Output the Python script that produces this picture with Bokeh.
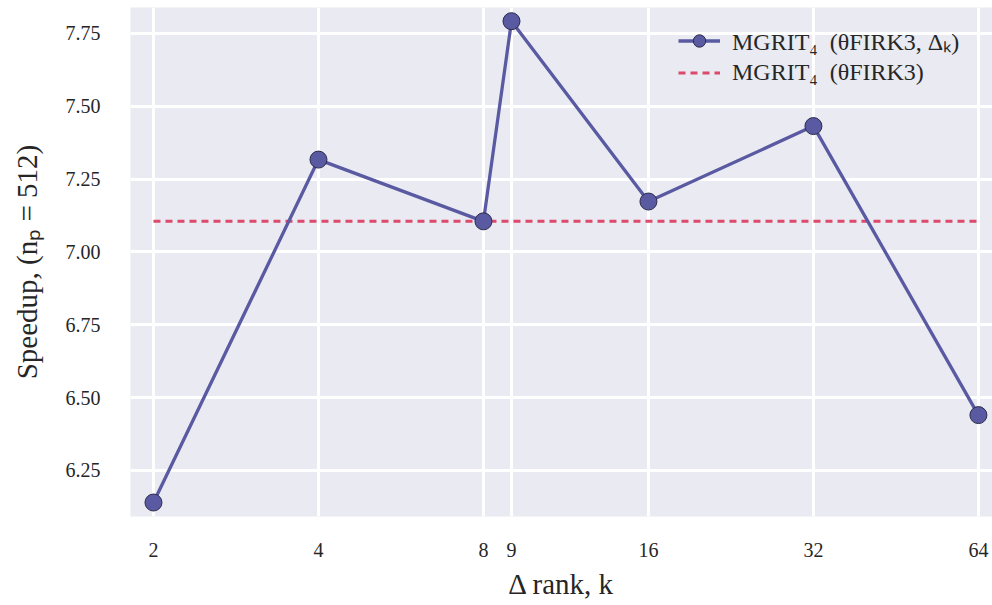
from bokeh.plotting import figure
from bokeh.models import FixedTicker, Range1d, PrintfTickFormatter, Legend, LegendItem
from bokeh.embed import file_html
from bokeh.resources import INLINE

# Speedup versus Delta rank k
ranks = [2, 4, 8, 9, 16, 32, 64]
speedup = [6.14, 7.317, 7.105, 7.792, 7.173, 7.432, 6.44]
baseline = 7.105  # MGRIT_4 (thetaFIRK3) without Delta
baseline_span = [2, 64]
x_ticks = [2, 4, 8, 9, 16, 32, 64]
y_ticks = [6.25, 6.50, 6.75, 7.00, 7.25, 7.50, 7.75]

BLUE = "#5a5aa2"
RED = "#dc4a6c"
FONT = "Liberation Serif"
INK = "#262626"

p = figure(width=992, height=605, x_axis_type="log",
           output_backend="svg", toolbar_location=None,
           x_range=Range1d(1.816, 67.9), y_range=Range1d(6.092, 7.839),
           min_border_left=130, min_border_right=0, min_border_top=7,
           min_border_bottom=89)
p.background_fill_color = "#eaeaf2"
p.border_fill_color = "white"
p.outline_line_color = None

for ax in (p.xaxis[0], p.yaxis[0]):
    ax.axis_line_color = None
    ax.major_tick_line_color = None
    ax.minor_tick_line_color = None
    ax.major_label_text_font = FONT
    ax.major_label_text_font_size = "20px"
    ax.major_label_text_color = INK
    ax.axis_label_text_font = FONT
    ax.axis_label_text_font_style = "normal"
    ax.axis_label_text_font_size = "29px"
    ax.axis_label_text_color = INK

p.xaxis.ticker = FixedTicker(ticks=x_ticks, minor_ticks=[])
p.xaxis.major_label_overrides = {t: str(t) for t in x_ticks}
p.yaxis.ticker = FixedTicker(ticks=y_ticks, minor_ticks=[])
p.yaxis.formatter = PrintfTickFormatter(format="%.2f")
p.xaxis.major_label_standoff = 20
p.yaxis.major_label_standoff = 24
p.xaxis.axis_label = "Δ rank, k"
p.yaxis.axis_label = "Speedup, (nₚ = 512)"
p.xaxis.axis_label_standoff = 8
p.yaxis.axis_label_standoff = 20

p.xgrid.grid_line_color = "white"
p.ygrid.grid_line_color = "white"
p.xgrid.grid_line_width = 3
p.ygrid.grid_line_width = 3

dash = p.line(baseline_span, [baseline, baseline], line_color=RED,
              line_width=3, line_dash="7 5")
ln = p.line(ranks, speedup, line_color=BLUE, line_width=3.3)
pts = p.scatter(ranks, speedup, size=17, fill_color=BLUE,
                line_color="#2b2b4a", line_width=1)

# legend anchored by its bottom-left corner, in frame pixels
legend = Legend(items=[
    LegendItem(label="MGRIT₄  (θFIRK3, Δₖ)", renderers=[ln, pts]),
    LegendItem(label="MGRIT₄  (θFIRK3)", renderers=[dash]),
], location=(548, 428))
legend.background_fill_alpha = 0
legend.border_line_alpha = 0
legend.label_text_font = FONT
legend.label_text_font_size = "24px"
legend.label_text_color = INK
legend.label_text_baseline = "middle"
legend.glyph_width = 42
legend.glyph_height = 31
legend.label_height = 31
legend.label_standoff = 12
legend.spacing = 0
legend.margin = 0
legend.padding = 0
p.add_layout(legend)

open("out.html", "w").write(file_html(p, INLINE))
